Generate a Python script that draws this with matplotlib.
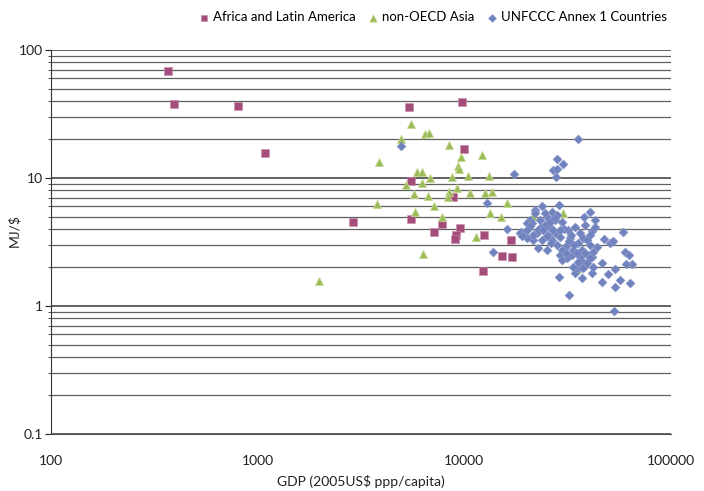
import numpy as np
import matplotlib
matplotlib.use("Agg")
import matplotlib.pyplot as plt
from matplotlib.ticker import LogLocator, FuncFormatter, NullLocator

plt.rcParams['font.family'] = ['Lato', 'DejaVu Sans']

# Africa and Latin America: GDP (2005US$ ppp/capita), MJ/$
afr_gdp = [370, 395, 800, 1080, 2900, 5400, 9700, 10000, 5500, 8800,
           5500, 7800, 7100, 9500, 9100, 9000, 12400, 15200, 12300, 16800, 17000]
afr_mj = [68, 38, 36.5, 15.7, 4.5, 36, 39, 16.8, 9.5, 7.1,
          4.8, 4.4, 3.8, 4.1, 3.6, 3.35, 3.6, 2.45, 1.87, 3.28, 2.4]

# non-OECD Asia
asia_gdp = [5520, 6450, 6740, 4940, 8430, 3860, 9630, 12170, 9310, 9420,
            5900, 6240, 6820, 8710, 10410, 13150, 5220, 6240, 5700, 6670,
            8430, 8330, 9210, 10640, 12580, 13600, 3780, 7130, 16070, 5770,
            7800, 13300, 15030, 11380, 6310, 1980, 21480, 30000, 23490, 35060]
asia_mj = [26.4, 22.1, 22.5, 20.2, 18.1, 13.3, 14.6, 15.1, 12.4, 11.8,
           11.1, 11.1, 10.0, 10.2, 10.4, 10.4, 8.8, 9.1, 7.5, 7.2,
           7.8, 7.1, 8.35, 7.6, 7.6, 7.8, 6.3, 6.0, 6.4, 5.4,
           4.96, 5.33, 4.96, 3.46, 2.55, 1.57, 5.05, 5.33, 4.22, 1.95]

# UNFCCC Annex 1 Countries
ann_gdp = [4940, 17380, 12850, 16070, 13750, 35480, 28060, 30000, 26840, 28060,
           27750, 23700, 28700, 21960, 20770, 20100, 18790, 19440, 22460, 21480,
           22710, 25120, 29010, 31360, 28690, 32070, 37070, 34290, 35060, 40520,
           37900, 42830, 58520, 47350, 50620, 52330, 59840, 62560, 64700, 60510,
           49540, 46290, 53530, 56590, 63270, 53530, 46290, 41470, 52930, 41470,
           23210, 25380, 27440, 25950, 27440, 29010, 31710, 34290, 36250, 37490,
           40520, 35450, 32430, 38330, 42830, 24540, 26530, 28060, 29670, 24540,
           23210, 25380, 26530, 23740, 28060, 30670, 33150, 36250, 41470, 33530,
           31360, 37070, 37490, 39620, 35060, 41880, 39170, 36250, 33530, 29670,
           29670, 26240, 20100, 22710, 21240, 18580, 39170, 40520, 38330, 40520,
           41880, 37490, 21960, 20770, 19000, 20100, 21480, 24000, 25000, 26000,
           27000, 30500, 32000, 33000, 34000, 44000, 31000, 29000, 35500, 27500]
ann_mj = [17.8, 10.7, 6.4, 4.0, 2.64, 20.2, 14.1, 12.9, 11.6, 11.8,
          10.2, 6.0, 6.15, 5.62, 4.7, 4.45, 3.78, 3.72, 3.72, 3.28,
          2.85, 2.74, 2.5, 2.38, 1.69, 1.22, 1.66, 1.81, 1.98, 5.41,
          4.95, 4.7, 3.78, 3.33, 3.11, 3.22, 2.64, 2.5, 2.13, 2.13,
          1.78, 2.17, 1.95, 1.6, 1.51, 1.41, 1.54, 1.81, 0.91, 3.85,
          4.7, 4.88, 4.7, 4.15, 3.72, 3.46, 3.92, 4.15, 3.72, 3.4,
          3.59, 3.11, 3.4, 4.3, 4.15, 5.33, 5.42, 5.14, 4.54, 4.3,
          4.07, 3.59, 3.28, 3.28, 3.0, 2.85, 2.5, 2.41, 2.41, 2.74,
          3.0, 2.74, 2.21, 2.5, 2.59, 2.64, 2.17, 2.01, 2.01, 2.29,
          2.74, 3.11, 3.4, 3.92, 4.46, 3.72, 3.28, 3.0, 2.59, 2.38,
          2.01, 1.98, 5.3, 4.2, 3.5, 3.9, 3.6, 3.9, 3.5, 4.5,
          3.9, 4.0, 3.2, 3.6, 3.0, 2.9, 2.6, 3.9, 2.2, 4.9]

fig = plt.figure(figsize=(7.04, 4.91), dpi=100)
ax = fig.add_axes([51 / 704, 1 - 434 / 491, 620 / 704, 384 / 491])

ax.scatter(afr_gdp, afr_mj, marker='s', s=28, color='#A34D7B',
           edgecolors='#C98AAA', linewidths=0.4, label='Africa and Latin America', zorder=3)
ax.scatter(asia_gdp, asia_mj, marker='^', s=34, color='#9BBB59',
           edgecolors='#C6DA92', linewidths=0.6, label='non-OECD Asia', zorder=4)
ax.scatter(ann_gdp, ann_mj, marker='D', s=22, color='#7183BE',
           edgecolors='#98A6D2', linewidths=0.3, label='UNFCCC Annex 1 Countries', zorder=5)

ax.set_xscale('log')
ax.set_yscale('log')
ax.set_xlim(100, 100000)
ax.set_ylim(0.1, 100)

fmt = FuncFormatter(lambda v, p: '%g' % v)
ax.xaxis.set_major_locator(LogLocator(base=10, numticks=10))
ax.xaxis.set_minor_locator(NullLocator())
ax.xaxis.set_major_formatter(fmt)
ax.yaxis.set_major_locator(LogLocator(base=10, numticks=10))
ax.yaxis.set_minor_locator(LogLocator(base=10, subs=np.arange(2, 10), numticks=10))
ax.yaxis.set_major_formatter(fmt)

ax.yaxis.grid(True, which='major', color='#555555', lw=1.3)
ax.yaxis.grid(True, which='minor', color='#606060', lw=0.9)
ax.set_axisbelow(True)

for s in ['top', 'right']:
    ax.spines[s].set_visible(False)
ax.spines['bottom'].set_color('#555555')
ax.spines['left'].set_color('#333333')

ax.tick_params(axis='x', length=0, pad=15, labelsize=10, colors='#222222')
ax.tick_params(axis='y', which='major', length=4, pad=2, labelsize=10, colors='#222222')
ax.tick_params(axis='y', which='minor', length=2.5, colors='#333333')

ax.set_xlabel('GDP (2005US$ ppp/capita)', fontsize=10, color='#222222', labelpad=6)
ax.set_ylabel('MJ/$', fontsize=10, color='#222222')
ax.yaxis.set_label_coords(-31 / 620, 0.53)

fig.legend(loc='center', bbox_to_anchor=(432 / 704, 1 - 17 / 491), ncol=3,
           frameon=False, fontsize=9.5, handletextpad=0.2, columnspacing=0.8,
           handlelength=1.0, markerscale=0.9)

fig.savefig('out.png', dpi=100)
